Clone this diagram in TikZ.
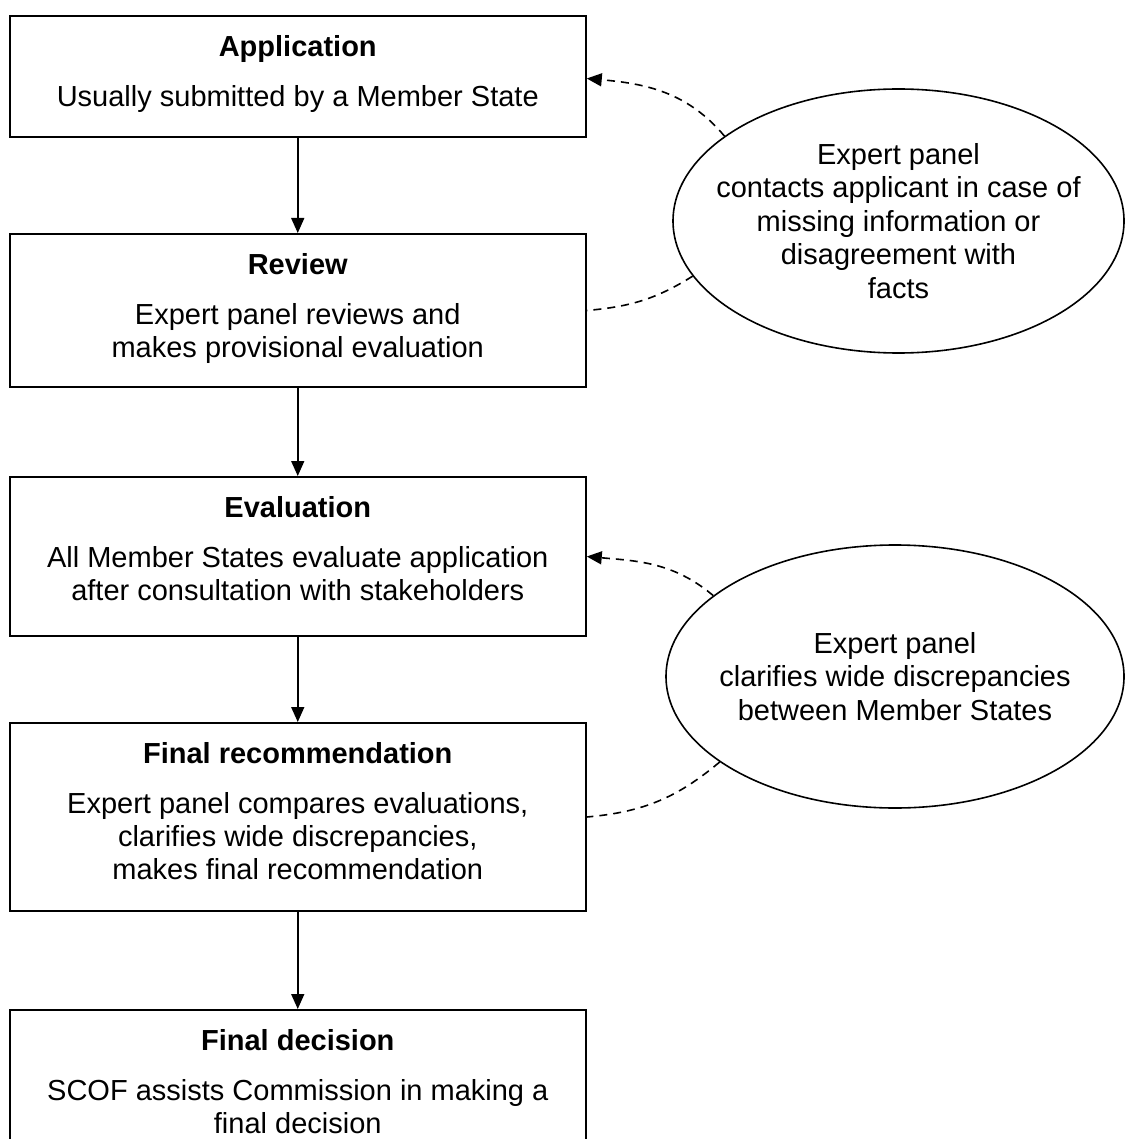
\documentclass[tikz,border=0pt]{standalone}
\usepackage{fontspec}
\setmainfont{Liberation Sans}
\usetikzlibrary{shapes.geometric, arrows.meta, positioning}
\tikzset{
  stage/.style={rectangle, draw=black, line width=2pt, minimum width=576pt, inner sep=0pt},
  stagetext/.style={anchor=north, align=center, inner sep=0pt, font=\fontsize{29}{33.4}\selectfont},
  panel/.style={ellipse, draw=black, line width=1.6pt, inner sep=0pt},
  paneltext/.style={align=center, inner sep=0pt, font=\fontsize{29}{33.4}\selectfont}
}
\tikzstyle{arrow} = [line width=1.6pt,black,-{Triangle[width=13pt,length=15pt]}]
\tikzstyle{feedback} = [line width=1.6pt,black,dash pattern=on 8pt off 6pt]
\tikzstyle{feedbackto} = [feedback,-{Triangle[width=13pt,length=15pt]}]

\begin{document}
\begin{tikzpicture}[x=1pt,y=-1pt]
    \useasboundingbox (0,0) rectangle (1125,1139);
    \node [stage, minimum height=121pt] (a) at (297.75,76.5) {};
    \node [stage, minimum height=153pt, below=95pt of a] (b) {};
    \node [stage, minimum height=159pt, below=88pt of b] (c) {};
    \node [stage, minimum height=188pt, below=85pt of c] (d) {};
    \node [stage, minimum height=160pt, below=97pt of d] (e) {};
    \node [stagetext] (ta) at ([yshift=-20pt]a.north) {\textbf{Application}\\[16.5pt] Usually submitted by a Member State};
    \node [stagetext] (tb) at ([yshift=-20pt]b.north) {\textbf{Review}\\[16.5pt] Expert panel reviews and\\ makes provisional evaluation};
    \node [stagetext] (tc) at ([yshift=-20pt]c.north) {\textbf{Evaluation}\\[16.5pt] All Member States evaluate application\\ after consultation with stakeholders};
    \node [stagetext] (td) at ([yshift=-20pt]d.north) {\textbf{Final recommendation}\\[16.5pt] Expert panel compares evaluations,\\ clarifies wide discrepancies,\\ makes final recommendation};
    \node [stagetext] (te) at ([yshift=-20pt]e.north) {\textbf{Final decision}\\[16.5pt] SCOF assists Commission in making a\\ final decision};
    \node [panel, minimum width=451pt, minimum height=264pt] (p1) at (898.5,221) {};
    \node [paneltext] (q1) at (p1.center) {Expert panel\\ contacts applicant in case of\\ missing information or\\ disagreement with\\ facts};
    \node [panel, minimum width=458pt, minimum height=263pt] (p2) at (895,676.5) {};
    \node [paneltext] (q2) at (p2.center) {Expert panel\\ clarifies wide discrepancies\\ between Member States};
    \draw [arrow] (a) -- (b);
    \draw [arrow] (b) -- (c);
    \draw [arrow] (c) -- (d);
    \draw [arrow] (d) -- (e);
    \draw [feedbackto] (p1.154) to[out=130, in=-5] ([yshift=-2pt]a.east);
    \draw [feedback] (p1.195) to[out=212, in=5] (b.east);
    \draw [feedbackto] (p2.156) to[out=140, in=-5] (c.east);
    \draw [feedback] (p2.206) to[out=220, in=5] (d.east);
\end{tikzpicture}
\end{document}
